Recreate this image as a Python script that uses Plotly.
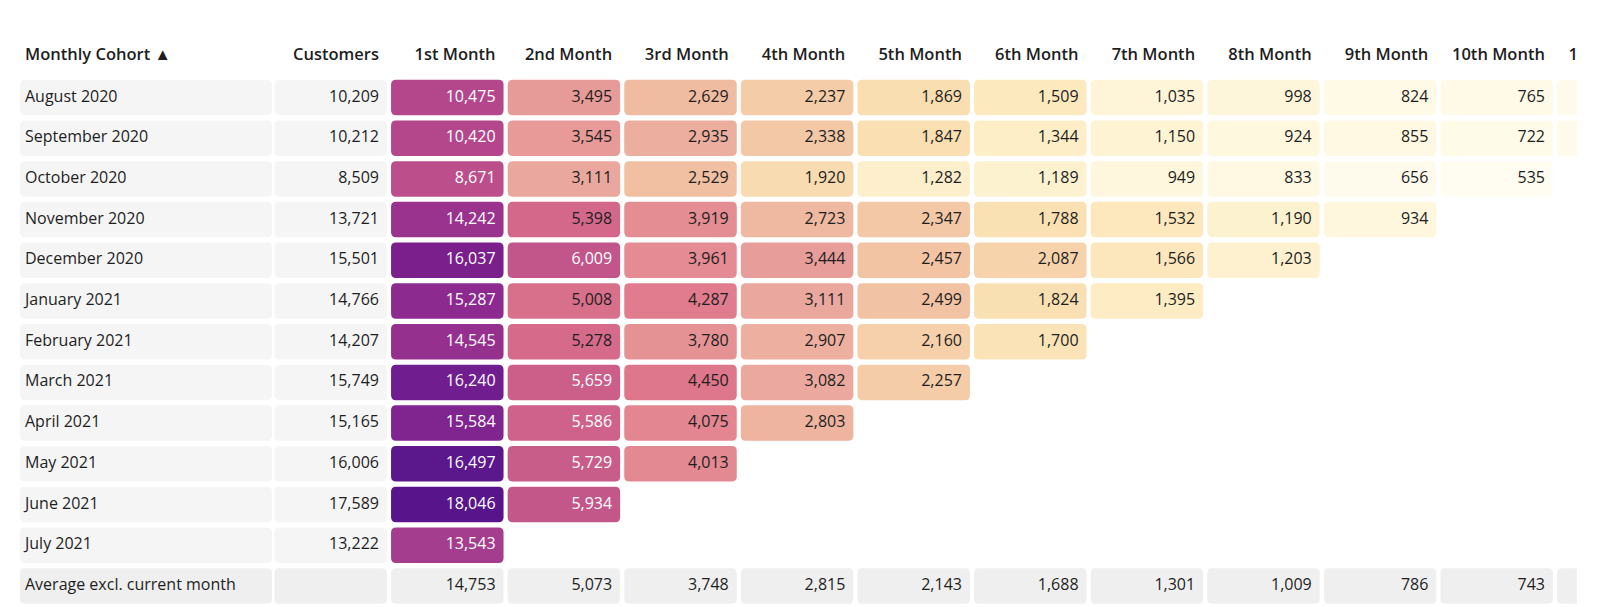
import plotly.graph_objects as go
from plotly.colors import sample_colorscale

# ---------------- data ----------------
cohorts = ["August 2020", "September 2020", "October 2020", "November 2020",
           "December 2020", "January 2021", "February 2021", "March 2021",
           "April 2021", "May 2021", "June 2021", "July 2021"]
customers = [10209, 10212, 8509, 13721, 15501, 14766, 14207, 15749, 15165,
             16006, 17589, 13222]
month_labels = ["1st Month", "2nd Month", "3rd Month", "4th Month", "5th Month",
                "6th Month", "7th Month", "8th Month", "9th Month", "10th Month",
                "11th Month", "12th Month"]
retained = [
    [10475, 3495, 2629, 2237, 1869, 1509, 1035, 998, 824, 765, 702, 640],
    [10420, 3545, 2935, 2338, 1847, 1344, 1150, 924, 855, 722, 688],
    [8671, 3111, 2529, 1920, 1282, 1189, 949, 833, 656, 535],
    [14242, 5398, 3919, 2723, 2347, 1788, 1532, 1190, 934],
    [16037, 6009, 3961, 3444, 2457, 2087, 1566, 1203],
    [15287, 5008, 4287, 3111, 2499, 1824, 1395],
    [14545, 5278, 3780, 2907, 2160, 1700],
    [16240, 5659, 4450, 3082, 2257],
    [15584, 5586, 4075, 2803],
    [16497, 5729, 4013],
    [18046, 5934],
    [13543],
]
averages = [14753, 5073, 3748, 2815, 2143, 1688, 1301, 1009, 786, 743, 695, 640]
average_label = "Average excl. current month"
header_first = "Monthly Cohort \u25B2"
header_customers = "Customers"

# colour scale (value -> colour)
scale_values = [0, 500, 800, 1000, 1300, 1500, 1850, 2100, 2450, 2800, 3100,
                3500, 3950, 4300, 4500, 5000, 5400, 5700, 6000, 8700, 10450,
                13550, 14250, 15300, 15600, 16050, 16300, 16500, 18046]
scale_colors = ["rgb(255,255,250)", "rgb(255,253,242)", "rgb(255,250,230)",
                "rgb(254,246,218)", "rgb(253,239,202)", "rgb(252,233,189)",
                "rgb(249,223,178)", "rgb(246,210,171)", "rgb(242,196,164)",
                "rgb(238,180,159)", "rgb(234,167,158)", "rgb(231,155,153)",
                "rgb(228,140,147)", "rgb(224,123,141)", "rgb(221,118,139)",
                "rgb(216,112,140)", "rgb(212,104,139)", "rgb(202,94,138)",
                "rgb(194,85,138)", "rgb(187,78,139)", "rgb(180,71,139)",
                "rgb(164,61,142)", "rgb(154,51,142)", "rgb(140,42,143)",
                "rgb(127,36,144)", "rgb(122,31,140)", "rgb(108,28,144)",
                "rgb(91,23,140)", "rgb(88,21,139)"]
white_text_from = 5500

# ---------------- layout constants ----------------
W, H = 1600, 607
PX_PITCH_X, PX_COL1 = 116.6, 447.3
PX_PITCH_Y, PX_ROW0 = 40.7, 97.5
CLIP_RIGHT = 1577


def ux(px):
    return 1 + (px - PX_COL1) / PX_PITCH_X


def uy(py):
    return (py - PX_ROW0) / PX_PITCH_Y


HALF_W = 112.5 / PX_PITCH_X / 2
HALF_H = 35.5 / PX_PITCH_Y / 2
RX, RY = 5 / PX_PITCH_X, 5 / PX_PITCH_Y
PAD_R = 8 / PX_PITCH_X
LABEL_L, LABEL_R = ux(20), ux(272)
LABEL_TEXT_X = ux(25)
HEADER_Y = uy(56)
X_MIN, X_MAX = ux(0), ux(CLIP_RIGHT)

vmax = scale_values[-1]
colorscale = [[v / vmax, c] for v, c in zip(scale_values, scale_colors)]


def color_of(v):
    return sample_colorscale(colorscale, [min(v, vmax) / vmax])[0]


def rrect(x0, x1, y0, y1, fill):
    p = (f"M {x0+RX},{y0} L {x1-RX},{y0} Q {x1},{y0} {x1},{y0+RY} "
         f"L {x1},{y1-RY} Q {x1},{y1} {x1-RX},{y1} L {x0+RX},{y1} "
         f"Q {x0},{y1} {x0},{y1-RY} L {x0},{y0+RY} Q {x0},{y0} {x0+RX},{y0} Z")
    return dict(type="path", path=p, xref="x", yref="y", fillcolor=fill,
                line=dict(width=0), layer="below")


def value_visible(anchor):
    # a right-aligned value text of ~50px is only drawn if some of it is in view
    return anchor - 50 / PX_PITCH_X < X_MAX


shapes = []
FONT = "Open Sans, Noto Sans, sans-serif"
DARK = "#1e1e1e"

lx, ly, lt = [], [], []            # left aligned labels
rx_, ry_, rt, rc = [], [], [], []  # right aligned values

n_rows = len(cohorts)
for i, name in enumerate(cohorts):
    shapes.append(rrect(LABEL_L, LABEL_R, i - HALF_H, i + HALF_H, "#f5f5f5"))
    shapes.append(rrect(-HALF_W, HALF_W, i - HALF_H, i + HALF_H, "#f5f5f5"))
    lx.append(LABEL_TEXT_X); ly.append(i); lt.append(name)
    rx_.append(HALF_W - PAD_R); ry_.append(i); rt.append(f"{customers[i]:,}"); rc.append(DARK)
    for j, v in enumerate(retained[i]):
        c = j + 1
        shapes.append(rrect(c - HALF_W, c + HALF_W, i - HALF_H, i + HALF_H, color_of(v)))
        a = c + HALF_W - PAD_R
        if value_visible(a):
            rx_.append(a); ry_.append(i); rt.append(f"{v:,}")
            rc.append("white" if v >= white_text_from else DARK)

# average row
ia = n_rows
shapes.append(rrect(LABEL_L, LABEL_R, ia - HALF_H, ia + HALF_H, "#efefef"))
shapes.append(rrect(-HALF_W, HALF_W, ia - HALF_H, ia + HALF_H, "#efefef"))
lx.append(LABEL_TEXT_X); ly.append(ia); lt.append(average_label)
for j, v in enumerate(averages):
    c = j + 1
    shapes.append(rrect(c - HALF_W, c + HALF_W, ia - HALF_H, ia + HALF_H, "#efefef"))
    a = c + HALF_W - PAD_R
    if value_visible(a):
        rx_.append(a); ry_.append(ia); rt.append(f"{v:,}"); rc.append(DARK)

# headers
hx, ht = [HALF_W - PAD_R], [header_customers]
for j, lab in enumerate(month_labels):
    a = j + 1 + HALF_W - PAD_R
    if a - 90 / PX_PITCH_X < X_MAX:
        hx.append(a); ht.append(lab)

fig = go.Figure()
fig.add_trace(go.Scatter(x=lx, y=ly, text=lt, mode="text", textposition="middle right",
                         textfont=dict(family=FONT, size=16, color=DARK),
                         hoverinfo="skip", cliponaxis=True, showlegend=False))
fig.add_trace(go.Scatter(x=rx_, y=ry_, text=rt, mode="text", textposition="middle left",
                         textfont=dict(family=FONT, size=16, color=rc),
                         hoverinfo="skip", cliponaxis=True, showlegend=False))
fig.add_trace(go.Scatter(x=hx, y=[HEADER_Y] * len(hx), text=ht, mode="text",
                         textposition="middle left",
                         textfont=dict(family=FONT, size=16.5, color=DARK, weight=600),
                         hoverinfo="skip", cliponaxis=True, showlegend=False))
fig.add_trace(go.Scatter(x=[LABEL_TEXT_X], y=[HEADER_Y], text=[header_first], mode="text",
                         textposition="middle right",
                         textfont=dict(family=FONT, size=16.5, color=DARK, weight=600),
                         hoverinfo="skip", cliponaxis=True, showlegend=False))

fig.update_layout(
    width=W, height=H,
    margin=dict(l=0, r=W - CLIP_RIGHT, t=0, b=0),
    paper_bgcolor="white", plot_bgcolor="white",
    shapes=shapes,
    xaxis=dict(range=[X_MIN, X_MAX], visible=False, fixedrange=True),
    yaxis=dict(range=[uy(H), uy(0)], visible=False, fixedrange=True),
)
fig.write_html("out.html",
               config={"displayModeBar": False},
               post_script="document.body.style.margin='0';"
                           "document.body.style.overflow='hidden';")
